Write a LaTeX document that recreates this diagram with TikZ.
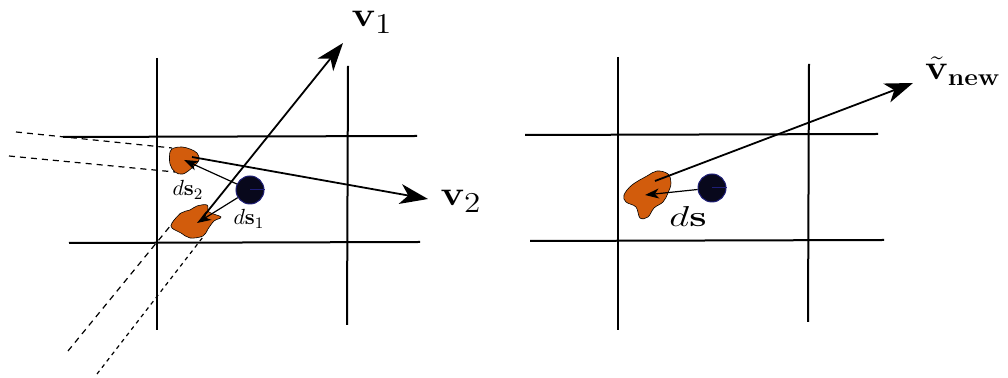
\documentclass[tikz,border=0pt]{standalone}
\usepackage{amsmath}
\usepackage{amssymb}
\usetikzlibrary{calc}
\usetikzlibrary{arrows.meta}
\usetikzlibrary{positioning}

\definecolor{blobcol}{RGB}{210,92,12}
\definecolor{partfill}{RGB}{8,8,28}
\definecolor{partline}{RGB}{30,30,120}

\tikzset{
  gridline/.style={line width=1pt},
  proj/.style={line width=0.6pt, dash pattern=on 3pt off 2.5pt},
  blob/.style={fill=blobcol, draw=black, line width=0.3pt},
  particle/.style={circle, fill=partfill, draw=partline, line width=0.5pt,
    minimum size=14pt, inner sep=0pt},
  lbl/.style={inner sep=0pt},
  bigarrow/.style={line width=0.9pt, -{Stealth[length=14pt,width=10pt,inset=4pt]}},
  smallarrow/.style={line width=0.6pt, -{Stealth[length=7pt,width=5pt,inset=2pt]}},
}

\begin{document}
\begin{tikzpicture}[x=0.5pt,y=-0.5pt]
            \useasboundingbox (0,0) rectangle (1008,378);

            % left cell
            \draw[gridline] (157,58) -- (157,330);
            \draw[gridline] (348,66) -- (347,325);
            \draw[gridline] (63,137) -- (417,136);
            \draw[gridline] (69,243) -- (420,242);

            \coordinate (S1) at (195,222);
            \coordinate (S2) at (184,160);
            \node[particle] (P) at (250,190) {};
            \draw[partline, line width=0.5pt] (P.center) -- (P.east);

            % back-projections
            \draw[proj] (16,132) -- (172,148);
            \draw[proj] (9,156) -- (175,172);
            \draw[proj] (68,351) -- (180,214);
            \draw[proj, dash pattern=on 2pt off 2pt] (97,374) -- (203,237);

            \draw[blob] plot[smooth cycle, tension=0.6] coordinates
                {(170,152) (174,148) (182,147) (190,149) (197,153) (199,160) (193,167) (183,174) (175,172) (170,164)};
            \draw[blob] plot[smooth cycle, tension=0.6] coordinates
                {(172,223) (181,213) (190,210) (197,206) (207,205) (209,212) (221,217) (214,221) (208,229) (203,236) (190,238) (181,233) (172,228)};

            \coordinate (V1) at (343,43);
            \coordinate (V2) at (428,199);
            \draw[bigarrow] (203,217) -- (V1);
            \draw[bigarrow] (192,157) -- (V2);
            \draw[smallarrow] (P) -- (197,223);
            \draw[smallarrow] (P) -- (S2);

            \node[lbl] (v1) at (372,22) {\scalebox{1.15}[1]{\fontsize{19}{23}\selectfont $\mathbf{v}_1$}};
            \node[lbl] (v2) at (461,201) {\scalebox{1.15}[1]{\fontsize{19}{23}\selectfont $\mathbf{v}_2$}};
            \node[lbl] (ds2) at (188,190) {\fontsize{11}{13}\selectfont $d\mathbf{s}_2$};
            \node[lbl] (ds1) at (249,219) {\fontsize{11}{13}\selectfont $d\mathbf{s}_1$};

            % right cell
            \draw[gridline] (618,57) -- (618,330);
            \draw[gridline] (809,64) -- (808,322);
            \draw[gridline] (525,135) -- (878,134);
            \draw[gridline] (530,241) -- (884,240);

            \coordinate (S) at (645,195);
            \node[particle] (Q) at (712,188) {};
            \draw[partline, line width=0.5pt] (Q.center) -- (Q.east);

            \draw[blob] plot[smooth cycle, tension=0.6] coordinates
                {(624,195) (632,185) (647,176) (657,171) (668,174) (671,183) (668,193) (663,202) (654,208) (648,217) (640,218) (636,207) (626,202)};

            \coordinate (Vn) at (913,83);
            \draw[bigarrow] (655,181) -- (Vn);
            \draw[smallarrow] (Q) -- (S);

            \node[lbl] (vnew) at (963,71) {\scalebox{1.1}[1]{\fontsize{18}{22}\selectfont $\tilde{\mathbf{v}}_{\mathbf{new}}$}};
            \node[lbl] (ds) at (688,217) {\scalebox{1.35}[1]{\fontsize{14.5}{17}\selectfont $d\mathbf{s}$}};
\end{tikzpicture}
\end{document}
